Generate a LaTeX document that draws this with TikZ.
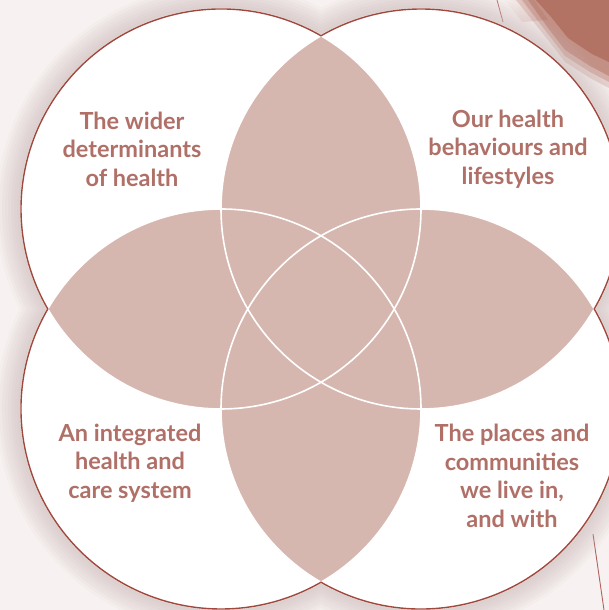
\documentclass[tikz,border=0pt]{standalone}
\usepackage{fontspec}
\setmainfont{Lato}
\definecolor{petal}{RGB}{214,183,176}
\definecolor{txt}{RGB}{176,112,104}
\definecolor{edge}{RGB}{160,72,62}
\definecolor{bg}{RGB}{247,242,241}
\definecolor{shadowcol}{RGB}{200,180,178}
\definecolor{brownband}{RGB}{178,114,100}
\definecolor{paleband}{RGB}{226,200,195}
\begin{document}
\begin{tikzpicture}[x=1pt,y=1pt,
  venntext/.style={text=txt,font=\fontsize{23.5}{28.5}\selectfont\bfseries,align=center},
  whiteline/.style={draw=white,line width=1.6pt},
  outline/.style={draw=edge,line width=1.4pt}]
\useasboundingbox (0,0) rectangle (609,610);
\clip (0,0) rectangle (609,610);
\fill[bg] (0,0) rectangle (609,610);
\coordinate (tl) at (221,401);
\coordinate (tr) at (421,401);
\coordinate (bl) at (221,201);
\coordinate (br) at (421,201);
\def\unionpath{(tl) ++(60:200pt) arc[start angle=60,end angle=210,radius=200pt] arc[start angle=150,end angle=300,radius=200pt] arc[start angle=240,end angle=390,radius=200pt] arc[start angle=-30,end angle=120,radius=200pt] -- cycle}
% decorations top right
\shade[left color=paleband!30!white,right color=paleband] (505,610) -- (534,610) -- (548,590) -- (522,588) -- cycle;
\foreach \d/\o in {18/0.25,12/0.35,6/0.5}{
  \fill[brownband,opacity=\o] (534-\d,610) -- (609,610) -- (609,540-\d) -- (590,550-\d) -- (565,566-\d) -- (548,588-\d) -- cycle;
}
\fill[brownband] (536,610) -- (609,610) -- (609,548) -- (592,556) -- (568,572) -- (552,592) -- cycle;
\draw[edge!80,line width=0.8pt] (497,610) -- (503,588);
\draw[edge!85,line width=0.9pt] (593,76) -- (604,0);
% soft shadow
\foreach \w in {50,44,38,32,26,20,14,8}{
  \draw[shadowcol,line width=\w pt,opacity=0.08] \unionpath;
}
\fill[white] \unionpath;
% petals (pairwise overlaps)
\foreach \a/\b in {tl/tr,tl/bl,tr/br,bl/br,tl/br,tr/bl}{
  \begin{scope}
    \clip (\a) circle[radius=200pt];
    \fill[petal] (\b) circle[radius=200pt];
  \end{scope}
}
% white circle lines
\foreach \c in {tl,tr,bl,br}{
  \draw[whiteline] (\c) circle[radius=200pt];
}
% outer outline
\draw[outline] \unionpath;
% texts
\node[venntext] (t1) at (132,461) {The wider\\determinants\\of health};
\node[venntext] (t2) at (508,461) {Our health\\behaviours and\\lifestyles};
\node[venntext] (t3) at (130,147) {An integrated\\health and\\care system};
\node[venntext] (t4) at (512,134) {The places and\\communities\\we live in,\\and with};
\end{tikzpicture}
\end{document}
